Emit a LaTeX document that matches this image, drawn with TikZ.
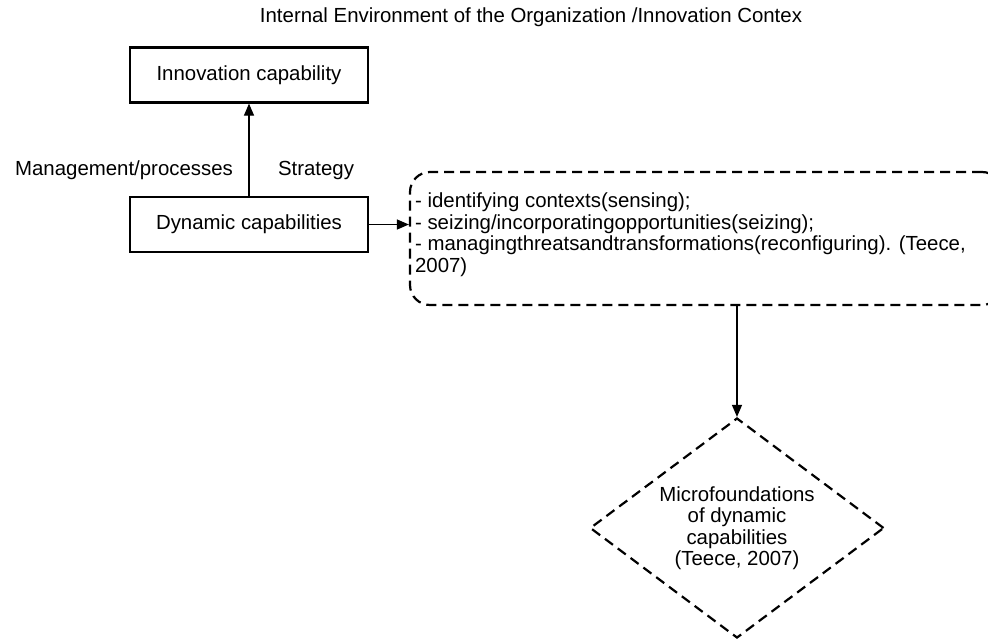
\documentclass[tikz,border=0pt]{standalone}
\usepackage{fontspec}
\setmainfont{Liberation Sans}
\usetikzlibrary{arrows.meta,shapes.geometric}

\begin{document}
\begin{tikzpicture}[ x=1pt, y=-1pt,
	every node/.style={font=\fontsize{20.4}{21.5}\selectfont},
	box/.style={draw, line width=2.2pt, minimum width=238pt, minimum height=55pt, inner sep=0pt},
	dashbox/.style={draw, line width=2.2pt, dash pattern=on 10pt off 6pt},
	arr/.style={-{Triangle[length=12pt,width=10pt]}, line width=1.2pt} ]
	\useasboundingbox (0,0) rectangle (988,640);
	\clip (0,0) rectangle (988,640);
	\node (title) at (531,17) {Internal Environment of the Organization /Innovation Contex};
	\node[box] (inno) at (249,75) {Innovation capability};
	\node[box] (dyn) at (249,224.5) {Dynamic capabilities};
	\node (mgmt) at (124,170) {Management/processes};
	\node (strat) at (316,170) {Strategy};
	\draw[arr] (dyn) -- (inno);
	% acts of dynamic capabilities
	\node[dashbox, rounded corners=20pt, minimum width=592pt, minimum height=133pt] (acts) at (706,238.5) {};
	\node[anchor=west, align=left, inner sep=0pt] (actstext) at ([xshift=6pt,yshift=4pt]acts.west) {- identifying contexts(sensing);\\
		- seizing/incorporatingopportunities(seizing);\\
		- managingthreatsandtransformations(reconfiguring). (Teece,\\
		2007)};
	\draw[arr] (dyn.east) -- (dyn.east -| acts.west);
	\node[dashbox, diamond, aspect=1.34, minimum width=294pt, minimum height=220pt, inner sep=0pt, align=center] (micro) at (737,528) {Microfoundations\\of dynamic\\capabilities\\(Teece, 2007)};
	\draw[arr] (micro.north |- acts.south) -- (micro.north);
\end{tikzpicture}
\end{document}
